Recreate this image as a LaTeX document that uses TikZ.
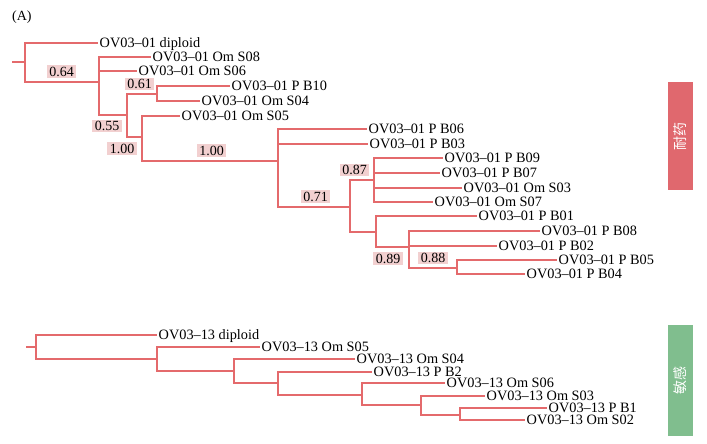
\documentclass[tikz,border=0pt]{standalone}
\usepackage{fontspec}
\setmainfont{Liberation Serif}
\newfontfamily\cjk{Noto Sans CJK SC}
\definecolor{branch}{RGB}{228,106,108}
\definecolor{bootfill}{RGB}{242,208,208}
\definecolor{resbox}{RGB}{224,104,110}
\definecolor{sensbox}{RGB}{128,190,142}
\begin{document}
\begin{tikzpicture}[x=1pt,y=-1pt,
  br/.style={draw=branch,line width=1.2pt},
  leaf/.style={anchor=west,inner xsep=1.5pt,inner ysep=0pt,text height=9.6pt,text depth=0pt,font=\fontsize{14.3}{16}\selectfont},
  boot/.style={fill=bootfill,inner xsep=2.4pt,inner ysep=1.6pt,text height=9.4pt,text depth=0pt,font=\fontsize{14}{16}\selectfont},
  sidebar/.style={minimum width=25pt,inner sep=0pt,text=white,font=\cjk\fontsize{14}{15}\selectfont}]
\useasboundingbox (0,0) rectangle (707,444);
\node[anchor=west,inner sep=0pt,font=\fontsize{14}{16}\selectfont] (title) at (12,17) {(A)};

% ---------- upper tree ----------
\coordinate (ur) at (12,62);
\coordinate (u0) at (25,62);
\coordinate (u1) at (99,82);
\coordinate (u2) at (127,115);
\coordinate (u3) at (157,94);
\coordinate (u4) at (142,137);
\coordinate (u5) at (278,161);
\coordinate (u6) at (350,207);
\coordinate (u7) at (374,180);
\coordinate (u8) at (376,232);
\coordinate (u9) at (409,247);
\coordinate (u10) at (457,268);

\node[leaf] (ldip) at (98,43) {OV03–01 diploid};
\node[leaf] (ls08) at (151,57) {OV03–01 Om S08};
\node[leaf] (ls06) at (137,71) {OV03–01 Om S06};
\node[leaf] (lb10) at (230,86) {OV03–01 P B10};
\node[leaf] (ls04) at (200,101) {OV03–01 Om S04};
\node[leaf] (ls05) at (180,116) {OV03–01 Om S05};
\node[leaf] (lb06) at (367,129) {OV03–01 P B06};
\node[leaf] (lb03) at (368,144) {OV03–01 P B03};
\node[leaf] (lb09) at (443,158) {OV03–01 P B09};
\node[leaf] (lb07) at (440,173) {OV03–01 P B07};
\node[leaf] (ls03) at (462,188) {OV03–01 Om S03};
\node[leaf] (ls07) at (433,202) {OV03–01 Om S07};
\node[leaf] (lb01) at (477,216) {OV03–01 P B01};
\node[leaf] (lb08) at (540,231) {OV03–01 P B08};
\node[leaf] (lb02) at (497,246) {OV03–01 P B02};
\node[leaf] (lb05) at (557,260) {OV03–01 P B05};
\node[leaf] (lb04) at (525,274) {OV03–01 P B04};

\draw[br] (ur) -- (u0);
\draw[br] (u0) |- (ldip.west);
\draw[br] (u0) |- (u1);
\draw[br] (u1) |- (ls08.west);
\draw[br] (u1) |- (ls06.west);
\draw[br] (u1) |- (u2);
\draw[br] (u2) |- (u3);
\draw[br] (u2) |- (u4);
\draw[br] (u3) |- (lb10.west);
\draw[br] (u3) |- (ls04.west);
\draw[br] (u4) |- (ls05.west);
\draw[br] (u4) |- (u5);
\draw[br] (u5) |- (lb06.west);
\draw[br] (u5) |- (lb03.west);
\draw[br] (u5) |- (u6);
\draw[br] (u6) |- (u7);
\draw[br] (u6) |- (u8);
\draw[br] (u7) |- (lb09.west);
\draw[br] (u7) |- (lb07.west);
\draw[br] (u7) |- (ls03.west);
\draw[br] (u7) |- (ls07.west);
\draw[br] (u8) |- (lb01.west);
\draw[br] (u8) |- (u9);
\draw[br] (u9) |- (lb08.west);
\draw[br] (u9) |- (lb02.west);
\draw[br] (u9) |- (u10);
\draw[br] (u10) |- (lb05.west);
\draw[br] (u10) |- (lb04.west);

\node[boot] (b064) at (61.5,71.5) {0.64};
\node[boot] (b055) at (107,126) {0.55};
\node[boot] (b061) at (139.5,84) {0.61};
\node[boot] (b100a) at (122,148.5) {1.00};
\node[boot] (b100b) at (211.5,150.5) {1.00};
\node[boot] (b071) at (315.5,196.5) {0.71};
\node[boot] (b087) at (354.5,170) {0.87};
\node[boot] (b089) at (388,258.5) {0.89};
\node[boot] (b088) at (433,258) {0.88};

\node[sidebar,fill=resbox,minimum height=108pt] (res) at (680.5,136) {\rotatebox{90}{耐药}};

% ---------- lower tree ----------
\coordinate (lr) at (26,347);
\coordinate (l0) at (36,347);
\coordinate (l1) at (157,359);
\coordinate (l2) at (234,371);
\coordinate (l3) at (278,383);
\coordinate (l4) at (362,395);
\coordinate (l5) at (421,405);
\coordinate (l6) at (460,415);

\node[leaf] (mdip) at (157,335) {OV03–13 diploid};
\node[leaf] (ms05) at (260,347) {OV03–13 Om S05};
\node[leaf] (ms04) at (355,359) {OV03–13 Om S04};
\node[leaf] (mb2) at (372,372) {OV03–13 P B2};
\node[leaf] (ms06) at (445,383) {OV03–13 Om S06};
\node[leaf] (ms03) at (485,396) {OV03–13 Om S03};
\node[leaf] (mb1) at (547,408) {OV03–13 P B1};
\node[leaf] (ms02) at (525,420) {OV03–13 Om S02};

\draw[br] (lr) -- (l0);
\draw[br] (l0) |- (mdip.west);
\draw[br] (l0) |- (l1);
\draw[br] (l1) |- (ms05.west);
\draw[br] (l1) |- (l2);
\draw[br] (l2) |- (ms04.west);
\draw[br] (l2) |- (l3);
\draw[br] (l3) |- (mb2.west);
\draw[br] (l3) |- (l4);
\draw[br] (l4) |- (ms06.west);
\draw[br] (l4) |- (l5);
\draw[br] (l5) |- (ms03.west);
\draw[br] (l5) |- (l6);
\draw[br] (l6) |- (mb1.west);
\draw[br] (l6) |- (ms02.west);

\node[sidebar,fill=sensbox,minimum height=111pt] (sens) at (680.5,380.5) {\rotatebox{90}{敏感}};
\end{tikzpicture}
\end{document}
